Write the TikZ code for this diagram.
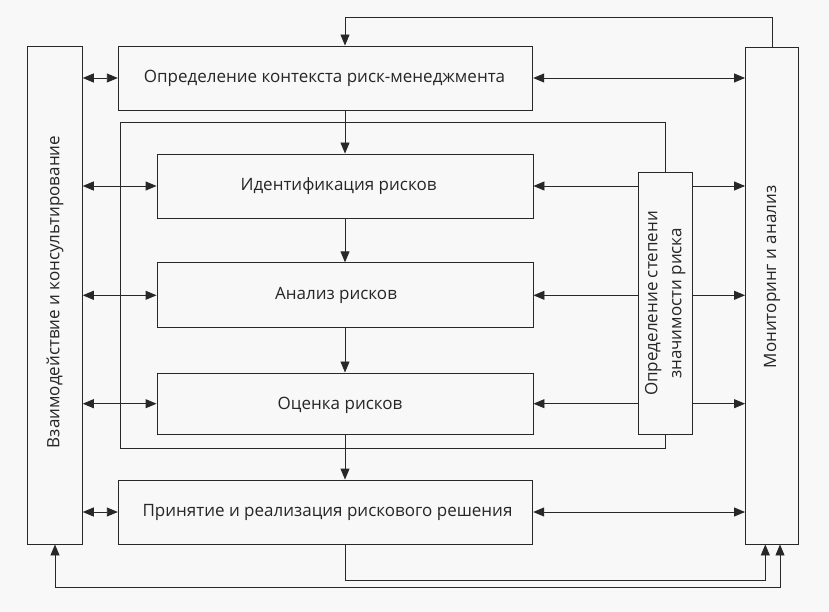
\documentclass[tikz,border=0pt]{standalone}
\usepackage{fontspec}
\setmainfont{Open Sans}
\usetikzlibrary{arrows.meta}
\definecolor{bgcol}{RGB}{248,248,248}
\definecolor{linecol}{RGB}{40,40,40}
\begin{document}
\begin{tikzpicture}[x=1pt,y=1pt,yscale=-1,xscale=1,
	box/.style={draw=linecol, fill=bgcol, line width=0.9pt, inner sep=0pt},
	txt/.style={inner sep=2pt, font=\fontsize{17}{20}\selectfont, text=black!85},
	vtxt/.style={txt, rotate=90, align=center, font=\fontsize{17}{24}\selectfont},
	sgl/.style={draw=linecol, line width=0.9pt, -{Triangle[length=11pt,width=9pt]}},
	dbl/.style={sgl, {Triangle[length=11pt,width=9pt]}-{Triangle[length=11pt,width=9pt]}}]
	
	%set diagram size 829 x 612
	\fill[bgcol] (0,0) rectangle (829,612);
	\useasboundingbox (0,0) rectangle (829,612);
	
	%Shape: Rectangle [outer frame]
	\draw [draw=linecol, line width=0.9pt] (120.5,122.7) rectangle (665,448.5);
	
	%Shape: Rectangle
	\node [box, minimum width=414.5pt, minimum height=64pt] (ctx) at (325.5,78) {};
	%Shape: Rectangle
	\node [box, minimum width=376pt, minimum height=64pt] (ident) at (345,186) {};
	%Shape: Rectangle
	\node [box, minimum width=376pt, minimum height=65pt] (anal) at (345,295.3) {};
	%Shape: Rectangle
	\node [box, minimum width=376pt, minimum height=61.5pt] (evalr) at (345,403.7) {};
	%Shape: Rectangle
	\node [box, minimum width=414.5pt, minimum height=64pt] (decide) at (325.5,512) {};
	%Shape: Rectangle
	\node [box, minimum width=54.6pt, minimum height=498pt] (consult) at (55,295) {};
	%Shape: Rectangle
	\node [box, minimum width=53pt, minimum height=497pt] (monitor) at (772,295.5) {};
	%Shape: Rectangle
	\node [box, minimum width=53.3pt, minimum height=262.6pt] (signif) at (665.3,303.4) {};
	
	% Text Node
	\node [txt] (ctxtxt) at (324.5,78) {Определение контекста риск-менеджмента};
	% Text Node
	\node [txt] (identtxt) at (338.5,186) {Идентификация рисков};
	% Text Node
	\node [txt] (analtxt) at (336,295) {Анализ рисков};
	% Text Node
	\node [txt] (evalrtxt) at (340,405) {Оценка рисков};
	% Text Node
	\node [txt] (decidetxt) at (327.5,512) {Принятие и реализация рискового решения};
	% Text Node
	\node [vtxt] (consulttxt) at (55,292) {Взаимодействие и консультирование};
	% Text Node
	\node [vtxt] (monitortxt) at (772,277) {Мониторинг и анализ};
	% Text Node
	\node [vtxt] (signiftxt) at (signif) {Определение степени\\значимости риска};
	
	%Straight Lines [feedback]
	\coordinate (topline) at (0,17.3);
	\coordinate (botA) at (765.3,580);
	\coordinate (botB) at (780,587);
	\draw [sgl] (monitor.north) |- (ident.north |- topline) -- (ident.north |- ctx.north);
	\draw [sgl] (ident.south |- decide.south) |- (botA) -- (botA |- monitor.south);
	\draw [dbl] (consult.south) |- (botB) -- (botB |- monitor.south);
	
	%Straight Lines [main chain]
	\draw [sgl] (ident.north |- ctx.south) -- (ident.north);
	\draw [sgl] (ident.south) -- (anal.north);
	\draw [sgl] (anal.south) -- (evalr.north);
	\draw [sgl] (evalr.south) -- (evalr.south |- decide.north);
	
	%Straight Lines [left side]
	\draw [dbl] (consult.east |- ctx.west) -- (ctx.west);
	\draw [dbl] (consult.east |- ident.west) -- (ident.west);
	\draw [dbl] (consult.east |- anal.west) -- (anal.west);
	\draw [dbl] (consult.east |- evalr.west) -- (evalr.west);
	\draw [dbl] (consult.east |- decide.west) -- (decide.west);
	
	%Straight Lines [right side]
	\draw [dbl] (ctx.east) -- (monitor.west |- ctx.east);
	\draw [dbl] (decide.east) -- (monitor.west |- decide.east);
	\foreach \n in {ident,anal,evalr} {
		\draw [sgl] (signif.west |- \n.east) -- (\n.east);
		\draw [sgl] (signif.east |- \n.east) -- (monitor.west |- \n.east);
	}
	
\end{tikzpicture}
\end{document}
